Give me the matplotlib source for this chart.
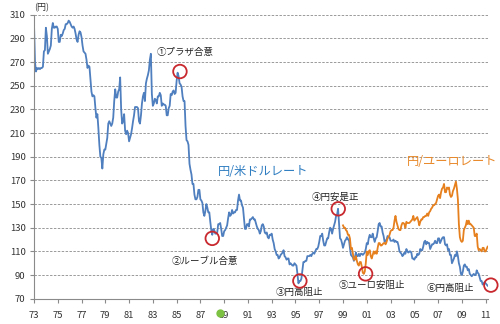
import numpy as np
import matplotlib
matplotlib.use("Agg")
import matplotlib.pyplot as plt

plt.rcParams['font.family'] = ['Noto Sans CJK JP', 'DejaVu Sans']

# monthly yen per US dollar, Jan 1973 - Mar 2011
usd = [
    302, 270, 262, 265, 264, 265, 264, 265, 265, 266, 279, 280,  # 1973
    299, 292, 277, 279, 281, 284, 298, 303, 299, 299, 300, 300,  # 1974
    298, 287, 287, 293, 292, 294, 297, 298, 302, 302, 303, 305,  # 1975
    304, 302, 300, 299, 300, 298, 294, 289, 287, 293, 296, 295,  # 1976
    291, 284, 279, 278, 277, 272, 265, 267, 266, 255, 245, 241,  # 1977
    242, 241, 231, 223, 226, 214, 200, 190, 189, 180, 192, 196,  # 1978
    196, 201, 206, 218, 220, 218, 216, 218, 223, 237, 247, 240,  # 1979
    240, 245, 247, 257, 230, 218, 220, 226, 212, 209, 212, 210,  # 1980
    203, 206, 209, 214, 220, 225, 232, 232, 232, 231, 220, 218,  # 1981
    225, 235, 241, 244, 237, 252, 256, 259, 263, 272, 277, 243,  # 1982
    233, 235, 239, 238, 235, 241, 241, 244, 242, 233, 235, 234,  # 1983
    234, 233, 225, 225, 231, 233, 243, 242, 245, 246, 243, 244,  # 1984
    254, 261, 258, 252, 251, 249, 241, 237, 237, 216, 204, 203,  # 1985
    200, 184, 179, 175, 167, 167, 158, 154, 154, 156, 162, 162,  # 1986
    154, 153, 151, 143, 140, 144, 150, 147, 143, 143, 135, 128,  # 1987
    124, 129, 128, 125, 125, 126, 133, 133, 134, 129, 123, 123,  # 1988
    127, 128, 130, 132, 138, 143, 140, 141, 145, 142, 143, 143,  # 1989
    145, 145, 153, 158, 153, 153, 149, 147, 138, 129, 129, 133,  # 1990
    133, 131, 137, 137, 138, 139, 137, 137, 134, 131, 129, 128,  # 1991
    125, 127, 132, 133, 131, 126, 125, 126, 122, 121, 124, 124,  # 1992
    125, 120, 117, 112, 110, 107, 107, 104, 105, 107, 108, 109,  # 1993
    111, 106, 105, 103, 104, 104, 99, 100, 99, 98, 98, 100,      # 1994
    99, 98, 91, 83, 85, 85, 87, 94, 101, 101, 102, 102,          # 1995
    106, 106, 106, 107, 106, 108, 109, 108, 110, 112, 112, 114,  # 1996
    118, 123, 123, 125, 119, 115, 115, 118, 121, 121, 126, 130,  # 1997
    129, 125, 129, 132, 135, 140, 141, 146, 134, 121, 120, 117,  # 1998
    113, 116, 119, 120, 122, 120, 120, 113, 107, 106, 105, 102,  # 1999
    105, 109, 106, 106, 108, 106, 108, 108, 107, 108, 109, 112,  # 2000
    117, 116, 121, 124, 122, 122, 125, 121, 118, 121, 122, 127,  # 2001
    133, 134, 131, 131, 126, 123, 118, 119, 120, 123, 122, 122,  # 2002
    119, 119, 119, 120, 118, 119, 118, 118, 115, 110, 109, 108,  # 2003
    106, 107, 109, 108, 112, 110, 109, 110, 110, 109, 104, 104,  # 2004
    103, 105, 105, 108, 107, 108, 112, 111, 111, 114, 118, 119,  # 2005
    116, 118, 117, 117, 112, 114, 116, 116, 117, 119, 117, 117,  # 2006
    121, 121, 117, 119, 121, 122, 122, 116, 115, 116, 111, 112,  # 2007
    107, 107, 100, 102, 104, 107, 106, 110, 106, 100, 97, 91,    # 2008
    90, 93, 98, 99, 97, 97, 94, 95, 91, 90, 89, 90,              # 2009
    91, 90, 90, 94, 92, 91, 88, 85, 85, 82, 83, 84,              # 2010
    83, 82, 81,                                                  # 2011
]

# monthly yen per euro, Jan 1999 - Mar 2011
eur = [
    132, 130, 130, 128, 127, 124, 124, 121, 112, 113, 108, 103,  # 1999
    103, 106, 102, 99, 98, 101, 101, 97, 92, 91, 93, 100,        # 2000
    110, 107, 110, 111, 106, 104, 107, 110, 108, 110, 108, 113,  # 2001
    117, 117, 115, 115, 116, 117, 117, 116, 118, 121, 122, 124,  # 2002
    127, 128, 128, 130, 136, 140, 135, 132, 129, 128, 128, 132,  # 2003
    134, 134, 133, 130, 135, 134, 134, 134, 135, 136, 137, 140,  # 2004
    136, 137, 138, 139, 136, 132, 135, 137, 137, 139, 139, 140,  # 2005
    140, 142, 140, 143, 144, 146, 147, 149, 149, 150, 151, 154,  # 2006
    157, 158, 155, 160, 163, 164, 167, 160, 160, 164, 163, 164,  # 2007
    158, 156, 157, 161, 163, 166, 169, 163, 154, 133, 122, 119,  # 2008
    118, 119, 128, 130, 132, 136, 133, 136, 133, 133, 132, 131,  # 2009
    130, 123, 123, 125, 114, 111, 112, 111, 110, 113, 113, 110,  # 2010
    110, 112, 114,                                               # 2011
]

# intervention / agreement marks: (year, yen, label, label year, label yen)
events_t = [1985.28, 1988.0, 1995.37, 1998.6, 2000.9, 2011.44]
events_v = [262, 121, 85, 146, 91, 81.5]
event_labels = ['①プラザ合意', '②ルーブル合意', '③円高阻止', '④円安是正', '⑤ユーロ安阻止', '⑥円高阻止']
label_t = [1985.7, 1987.4, 1995.37, 1998.37, 2001.4, 2008.05]
label_v = [278, 101.5, 75, 156, 81.5, 78.7]

t_usd = 1973 + np.arange(len(usd)) / 12.0
t_eur = 1999 + np.arange(len(eur)) / 12.0

blue = '#4F7FBE'
orange = '#E6801E'

fig = plt.figure(figsize=(5, 3.24), dpi=100)
ax = fig.add_axes([0.068, 0.078, 0.908, 0.8766])

ax.plot(t_usd, usd, color=blue, lw=1.3)
ax.plot(t_eur, eur, color=orange, lw=1.3)

ax.scatter(events_t, events_v, s=95, facecolors='none', edgecolors='#C8282E',
           linewidths=1.3, zorder=5, clip_on=False)
for x, y, s in zip(label_t, label_v, event_labels):
    ax.text(x, y, s, fontsize=6.8, ha='center', va='center', color='#222222')

ax.text(1992.26, 177.3, '円/米ドルレート', fontsize=8.8, color='#2F7DC1',
        ha='center', va='center')
ax.text(2008.2, 186.3, '円/ユーロレート', fontsize=8.8, color='#E8892B',
        ha='center', va='center')
ax.text(0.0, 1.01, '(円)', transform=ax.transAxes, fontsize=6.5,
        ha='left', va='bottom', color='#333333')

# small green dot under the x axis
ax.plot([0.41], [-0.05], 'o', color='#7DC242', ms=5, transform=ax.transAxes,
        clip_on=False)

ax.set_xlim(1973, 2011.2)
ax.set_ylim(70, 310)
ax.set_yticks(np.arange(70, 311, 20))
xt = np.arange(1973, 2012, 2)
ax.set_xticks(xt)
ax.set_xticklabels(['%02d' % (y % 100) for y in xt])
ax.yaxis.grid(True, linestyle=(0, (2.5, 1.5)), color='#9A9A9A', lw=0.7)
ax.set_axisbelow(True)

for s in ['top', 'right']:
    ax.spines[s].set_visible(False)
for s in ['left', 'bottom']:
    ax.spines[s].set_color('#8A8A8A')
    ax.spines[s].set_linewidth(0.8)
ax.tick_params(axis='both', labelsize=6.8, colors='#8A8A8A', labelcolor='#333333',
               length=3, width=0.8)
ax.tick_params(axis='x', pad=6)
ax.tick_params(axis='y', pad=3)

fig.savefig('out.png', dpi=100)
